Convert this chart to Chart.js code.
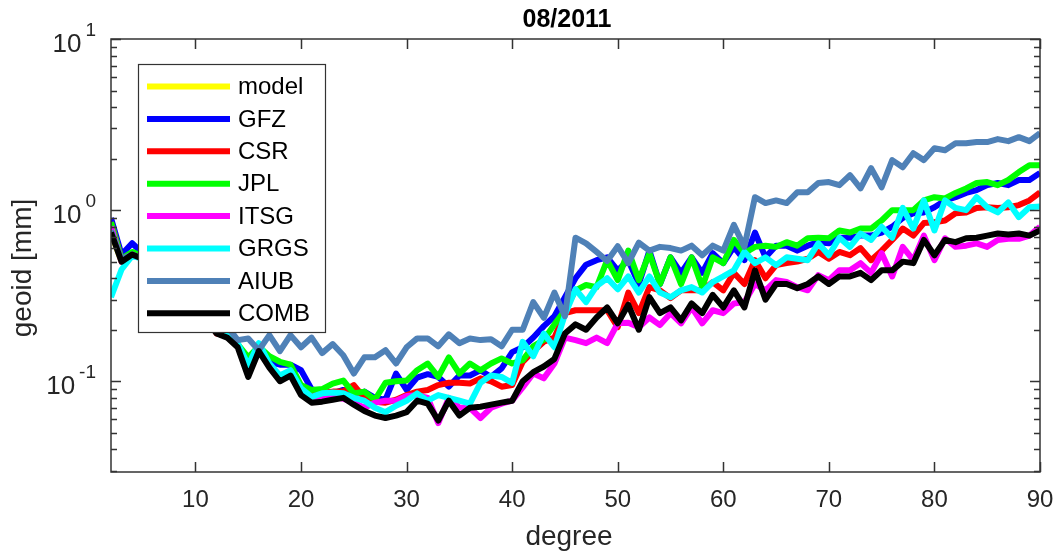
<!DOCTYPE html>
<html>
<head>
<meta charset="utf-8">
<script src="https://cdn.jsdelivr.net/npm/chart.js@4.4.1/dist/chart.umd.min.js"></script>
<style>
  html, body { margin: 0; padding: 0; background: #fff; }
  #wrap { width: 1056px; height: 556px; }
</style>
</head>
<body>
<div id="wrap"><canvas id="myChart" width="1056" height="556"></canvas></div>
<script>
// spherical harmonic degree 2..90
const degrees = Array.from({ length: 89 }, (_, i) => i + 2)

const seriesNames = ['model', 'GFZ', 'CSR', 'JPL', 'ITSG', 'GRGS', 'AIUB', 'COMB']
const seriesColors = ['#ffff00', '#0000ff', '#ff0000', '#00ff00', '#ff00ff', '#00ffff', '#4f81b7', '#000000']

const xTicks = [10, 20, 30, 40, 50, 60, 70, 80, 90]
const yMajor = [0.1, 1, 10]
const yExp = ['-1', '0', '1']

// values in mm
const model = [0.74, 0.50, 0.55, 0.52]

const gfz = [
  0.90, 0.55, 0.64, 0.56, 0.48, 0.43, 0.38, 0.33, 0.29, 0.25,
  0.20, 0.19, 0.165, 0.12, 0.16, 0.13, 0.125, 0.125, 0.116, 0.09,
  0.086, 0.085, 0.089, 0.085, 0.087, 0.08, 0.078, 0.111, 0.089, 0.105,
  0.11, 0.106, 0.093, 0.108, 0.108, 0.116, 0.106, 0.119, 0.148, 0.158,
  0.18, 0.21, 0.24, 0.31, 0.40, 0.48, 0.51, 0.53, 0.445, 0.51,
  0.37, 0.58, 0.37, 0.53, 0.43, 0.53, 0.43, 0.56, 0.49, 0.61,
  0.51, 0.74, 0.53, 0.62, 0.62, 0.58, 0.62, 0.65, 0.64, 0.69,
  0.69, 0.71, 0.71, 0.74, 0.80, 0.90, 0.96, 0.97, 1.04, 1.14,
  1.19, 1.26, 1.31, 1.40, 1.44, 1.40, 1.50, 1.50, 1.65]

const csr = [
  0.85, 0.52, 0.56, 0.53, 0.47, 0.42, 0.37, 0.32, 0.28, 0.24,
  0.19, 0.185, 0.165, 0.115, 0.155, 0.125, 0.105, 0.112, 0.09, 0.085,
  0.086, 0.087, 0.087, 0.095, 0.08, 0.076, 0.075, 0.078, 0.083, 0.087,
  0.089, 0.095, 0.098, 0.098, 0.097, 0.104, 0.10, 0.093, 0.095, 0.13,
  0.15, 0.17, 0.18, 0.25, 0.26, 0.26, 0.26, 0.26, 0.207, 0.33,
  0.25, 0.355, 0.34, 0.306, 0.34, 0.34, 0.34, 0.38, 0.34, 0.43,
  0.37, 0.51, 0.40, 0.477, 0.49, 0.50, 0.52, 0.57, 0.52, 0.57,
  0.545, 0.60, 0.51, 0.58, 0.67, 0.78, 0.71, 0.84, 0.85, 0.87,
  0.96, 0.97, 1.03, 1.04, 1.03, 1.04, 1.07, 1.14, 1.27]

const jpl = [
  0.85, 0.52, 0.57, 0.54, 0.47, 0.42, 0.37, 0.32, 0.28, 0.24,
  0.20, 0.19, 0.165, 0.138, 0.16, 0.14, 0.13, 0.125, 0.095, 0.089,
  0.09, 0.097, 0.101, 0.085, 0.087, 0.078, 0.098, 0.10, 0.101, 0.116,
  0.127, 0.106, 0.138, 0.111, 0.127, 0.116, 0.127, 0.136, 0.127, 0.133,
  0.16, 0.175, 0.215, 0.26, 0.34, 0.365, 0.355, 0.51, 0.39, 0.58,
  0.39, 0.56, 0.37, 0.53, 0.37, 0.53, 0.355, 0.53, 0.49, 0.67,
  0.56, 0.61, 0.62, 0.61, 0.65, 0.62, 0.685, 0.69, 0.685, 0.76,
  0.74, 0.78, 0.78, 0.87, 1.0, 1.0, 1.0, 1.14, 1.19, 1.17,
  1.26, 1.34, 1.44, 1.46, 1.40, 1.50, 1.67, 1.83, 1.83]

const itsg = [
  0.80, 0.50, 0.55, 0.52, 0.46, 0.41, 0.37, 0.32, 0.28, 0.24,
  0.20, 0.185, 0.16, 0.115, 0.155, 0.125, 0.105, 0.115, 0.088, 0.08,
  0.082, 0.082, 0.079, 0.075, 0.07, 0.075, 0.077, 0.077, 0.082, 0.083,
  0.08, 0.057, 0.08, 0.07, 0.07, 0.061, 0.07, 0.074, 0.077, 0.092,
  0.111, 0.104, 0.127, 0.18, 0.174, 0.167, 0.18, 0.167, 0.218, 0.22,
  0.207, 0.236, 0.213, 0.25, 0.218, 0.27, 0.218, 0.26, 0.25, 0.285,
  0.29, 0.37, 0.34, 0.39, 0.38, 0.355, 0.34, 0.417, 0.39, 0.445,
  0.445, 0.49, 0.43, 0.56, 0.41, 0.61, 0.51, 0.71, 0.51, 0.685,
  0.61, 0.62, 0.64, 0.61, 0.67, 0.68, 0.68, 0.71, 0.80]

const grgs = [
  0.31, 0.45, 0.54, 0.52, 0.46, 0.41, 0.36, 0.31, 0.27, 0.23,
  0.20, 0.19, 0.167, 0.124, 0.167, 0.127, 0.108, 0.116, 0.091, 0.081,
  0.085, 0.086, 0.085, 0.08, 0.077, 0.07, 0.066, 0.072, 0.077, 0.085,
  0.077, 0.083, 0.08, 0.077, 0.074, 0.098, 0.108, 0.106, 0.098, 0.17,
  0.14, 0.19, 0.158, 0.245, 0.345, 0.29, 0.36, 0.40, 0.345, 0.41,
  0.33, 0.41, 0.33, 0.31, 0.34, 0.355, 0.33, 0.38, 0.41, 0.445,
  0.57, 0.49, 0.53, 0.477, 0.53, 0.52, 0.51, 0.64, 0.545, 0.69,
  0.61, 0.73, 0.67, 0.80, 0.69, 1.03, 0.78, 1.14, 0.76, 1.14,
  1.03, 1.0, 1.19, 1.04, 0.97, 1.11, 0.91, 1.04, 1.05]

const aiub = [
  0.76, 0.52, 0.55, 0.52, 0.47, 0.43, 0.39, 0.35, 0.31, 0.27,
  0.23, 0.21, 0.174, 0.178, 0.152, 0.186, 0.15, 0.186, 0.158, 0.18,
  0.146, 0.165, 0.142, 0.111, 0.138, 0.138, 0.152, 0.127, 0.158, 0.178,
  0.178, 0.16, 0.188, 0.167, 0.178, 0.174, 0.176, 0.16, 0.2, 0.2,
  0.29, 0.235, 0.33, 0.24, 0.69, 0.64, 0.57, 0.505, 0.615, 0.49,
  0.645, 0.58, 0.61, 0.60, 0.58, 0.62, 0.545, 0.62, 0.58, 0.82,
  0.61, 1.19, 1.1, 1.14, 1.1, 1.27, 1.27, 1.44, 1.46, 1.40,
  1.60, 1.34, 1.76, 1.36, 1.96, 1.78, 2.15, 1.96, 2.3, 2.24,
  2.46, 2.46, 2.5, 2.5, 2.6, 2.53, 2.67, 2.53, 2.82]

const comb = [
  0.74, 0.50, 0.55, 0.52, 0.45, 0.40, 0.36, 0.31, 0.27, 0.23,
  0.19, 0.18, 0.158, 0.106, 0.15, 0.12, 0.10, 0.108, 0.083, 0.075,
  0.076, 0.078, 0.08, 0.073, 0.067, 0.063, 0.061, 0.063, 0.066, 0.077,
  0.074, 0.059, 0.077, 0.063, 0.07, 0.071, 0.073, 0.075, 0.077, 0.10,
  0.113, 0.122, 0.135, 0.19, 0.215, 0.20, 0.236, 0.27, 0.218, 0.28,
  0.20, 0.31, 0.25, 0.27, 0.227, 0.285, 0.25, 0.32, 0.27, 0.34,
  0.27, 0.445, 0.30, 0.37, 0.37, 0.35, 0.37, 0.41, 0.37, 0.41,
  0.41, 0.43, 0.39, 0.445, 0.445, 0.50, 0.49, 0.67, 0.545, 0.67,
  0.65, 0.685, 0.69, 0.71, 0.73, 0.72, 0.73, 0.71, 0.76]

const allSeries = [model, gfz, csr, jpl, itsg, grgs, aiub, comb]

const FONT = '"Liberation Sans", Arial, Helvetica, sans-serif'
const AXIS_COLOR = '#333333'
const TEXT_COLOR = '#262626'

function txt(ctx, s, x, y, size, opts) {
	opts = opts || {}
	ctx.save()
	ctx.font = (opts.bold ? 'bold ' : '') + size + 'px ' + FONT
	ctx.fillStyle = opts.color || TEXT_COLOR
	ctx.textAlign = opts.align || 'left'
	ctx.textBaseline = opts.baseline || 'alphabetic'
	ctx.translate(x, y)
	if (opts.rotate) ctx.rotate(opts.rotate)
	ctx.fillText(s, 0, 0)
	ctx.restore()
}

// matlab style axes: box, inward ticks, labels, title and legend
const matlabAxes = {
	id: 'matlabAxes',
	afterDraw(chart) {
		const ctx = chart.ctx
		const a = chart.chartArea
		const xs = chart.scales.x
		const ys = chart.scales.y

		ctx.save()
		ctx.strokeStyle = AXIS_COLOR
		ctx.lineWidth = 1.5
		ctx.strokeRect(a.left, a.top, a.right - a.left, a.bottom - a.top)

		ctx.beginPath()
		xTicks.forEach(v => {
			const px = Math.round(xs.getPixelForValue(v)) + 0.5
			ctx.moveTo(px, a.bottom); ctx.lineTo(px, a.bottom - 10)
			ctx.moveTo(px, a.top); ctx.lineTo(px, a.top + 10)
		})
		const ymin = ys.min, ymax = ys.max
		for (let dec = 0.01; dec <= 10; dec *= 10) {
			for (let m = 1; m <= 9; m++) {
				const v = dec * m
				if (v < ymin || v > ymax * 1.0001) continue
				const len = m === 1 ? 10 : 6
				const py = Math.round(ys.getPixelForValue(v)) + 0.5
				ctx.moveTo(a.left, py); ctx.lineTo(a.left + len, py)
				ctx.moveTo(a.right, py); ctx.lineTo(a.right - len, py)
			}
		}
		ctx.stroke()
		ctx.restore()

		// x tick labels
		xTicks.forEach(v => {
			txt(ctx, String(v), xs.getPixelForValue(v), a.bottom + 35, 24, { align: 'center' })
		})

		// y tick labels 10^n
		yMajor.forEach((v, i) => {
			const py = ys.getPixelForValue(v)
			ctx.save()
			ctx.font = '26px ' + FONT
			const wBase = ctx.measureText('10').width
			ctx.font = '19px ' + FONT
			const wExp = ctx.measureText(yExp[i]).width
			ctx.restore()
			const right = 96
			const start = right - wExp - 4 - wBase
			txt(ctx, '10', start, py + 13, 26)
			txt(ctx, yExp[i], start + wBase + 4, py - 3, 19)
		})

		// titles
		txt(ctx, '08/2011', 567, 27, 25, { align: 'center', bold: true, color: '#000' })
		txt(ctx, 'degree', 569, 545, 28, { align: 'center' })
		txt(ctx, 'geoid [mm]', 23, 268, 28, { align: 'center', baseline: 'middle', rotate: -Math.PI / 2 })

		// legend box
		const lx = 138, ly = 64, lw = 187, lh = 268
		ctx.save()
		ctx.fillStyle = '#fff'
		ctx.fillRect(lx, ly, lw, lh)
		ctx.strokeStyle = AXIS_COLOR
		ctx.lineWidth = 1.2
		ctx.strokeRect(lx + 0.5, ly + 0.5, lw, lh)
		seriesNames.forEach((name, i) => {
			const ry = 86.5 + i * 32.4
			ctx.strokeStyle = seriesColors[i]
			ctx.lineWidth = 6
			ctx.beginPath()
			ctx.moveTo(147, ry); ctx.lineTo(230, ry)
			ctx.stroke()
			txt(ctx, name, 238, ry + 1, 24, { baseline: 'middle', color: '#000' })
		})
		ctx.restore()
	}
}

const datasets = seriesNames.map((name, i) => ({
	label: name,
	data: allSeries[i].map((v, j) => ({ x: degrees[j], y: v })),
	borderColor: seriesColors[i],
	backgroundColor: seriesColors[i],
	borderWidth: 6,
	borderJoinStyle: 'round',
	pointRadius: 0,
	tension: 0,
	fill: false,
	order: seriesNames.length - 1 - i
}))

new Chart(document.getElementById('myChart'), {
	type: 'line',
	data: { datasets: datasets },
	options: {
		responsive: false,
		animation: false,
		events: [],
		layout: { padding: { top: 39, right: 16, left: 0, bottom: 0 } },
		plugins: {
			legend: { display: false },
			tooltip: { enabled: false },
			title: { display: false }
		},
		scales: {
			x: {
				type: 'linear',
				min: 2,
				max: 90,
				grid: { display: false },
				border: { display: false },
				ticks: { display: false },
				afterFit(scale) { scale.height = 84 }
			},
			y: {
				type: 'logarithmic',
				min: 0.0295,
				max: 10,
				grid: { display: false },
				border: { display: false },
				ticks: { display: false },
				afterFit(scale) { scale.width = 111 }
			}
		}
	},
	plugins: [matlabAxes]
})
</script>
</body>
</html>
